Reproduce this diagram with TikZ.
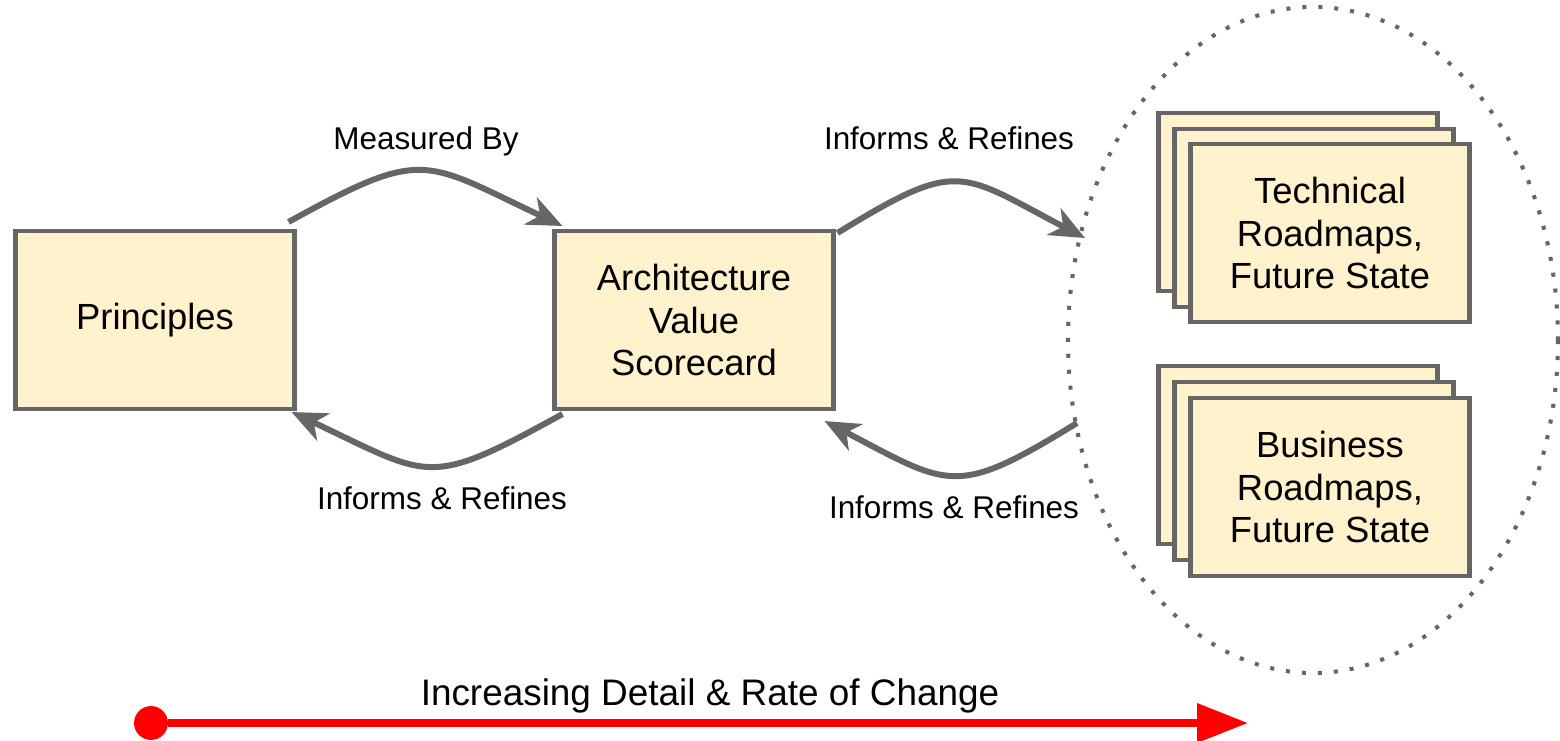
\documentclass[tikz,border=0pt]{standalone}
\usepackage{fontspec}
\setmainfont{Liberation Sans}
\usetikzlibrary{arrows.meta}
\definecolor{relleno}{HTML}{FFF2CC}
\definecolor{borde}{HTML}{666666}

\begin{document}
\begin{tikzpicture}[x=0.2mm, y=-0.2mm,
	caja/.style={draw=borde, line width=2.3pt, fill=relleno, minimum width=5.58cm, minimum height=3.56cm, align=center, font=\fontsize{20.7}{24.4}\selectfont},
	flecha/.style={draw=borde, line width=3.4pt, -{Stealth[length=20pt, width=17pt, inset=6pt]}},
	etiqueta/.style={anchor=base, font=\fontsize{17.9}{21}\selectfont},
	zona/.style={draw=borde, line width=2.3pt, dash pattern=on 2.3pt off 6.8pt},
	cambio/.style={draw=red, line width=4.25pt, -{Triangle[length=29pt, width=21.5pt]}},
	punto/.style={circle, fill=red, minimum size=19.3pt, inner sep=0pt}]

			\useasboundingbox (0,0) rectangle (1560,741);

			% Cajas principales
			\node[caja] (princ) at (155,320) {Principles};
			\node[caja] (avs) at (694,320) {Architecture\\Value\\Scorecard};

			% Zona punteada con las hojas de ruta
			\draw[zona] (1313,340) ellipse [x radius=245, y radius=333];
			\coordinate (zona-in) at (1085,238);
			\coordinate (zona-out) at (1077,423);

			% Pila tecnica
			\node[caja] (tec3) at (1298,202) {};
			\node[caja] (tec2) at (1314,218) {};
			\node[caja] (tec) at (1330,233) {Technical\\Roadmaps,\\Future State};

			% Pila de negocio
			\node[caja] (neg3) at (1298,455) {};
			\node[caja] (neg2) at (1314,471) {};
			\node[caja] (neg) at (1330,487) {Business\\Roadmaps,\\Future State};

			% Flechas curvas
			\draw[flecha] ([shift={(-8,-7)}]princ.north east) .. controls +(136,-75) and +(-140,-66) .. ([shift={(10,-3)}]avs.north west);
			\draw[flecha] ([shift={(10,3)}]avs.south west) .. controls +(-136,75) and +(140,66) .. ([shift={(-5,1)}]princ.south east);
			\draw[flecha] ([shift={(2,4)}]avs.north east) .. controls +(122,-75) and +(-126,-66) .. (zona-in);
			\draw[flecha] (zona-out) .. controls +(-122,75) and +(126,66) .. ([shift={(-11,10)}]avs.south east);

			% Etiquetas
			\node[etiqueta] (medido) at (426,149) {Measured By};
			\node[etiqueta] (refina1) at (949,149) {Informs \& Refines};
			\node[etiqueta] (refina2) at (442,509) {Informs \& Refines};
			\node[etiqueta] (refina3) at (954,518) {Informs \& Refines};

			% Eje de cambio
			\node[anchor=base, font=\fontsize{21}{25}\selectfont] (detalle) at (710,705) {Increasing Detail \& Rate of Change};
			\node[punto] (inicio) at (151,723) {};
			\coordinate (fin) at (1248,723);
			\draw[cambio] (inicio) -- (fin);

		\end{tikzpicture}
\end{document}
